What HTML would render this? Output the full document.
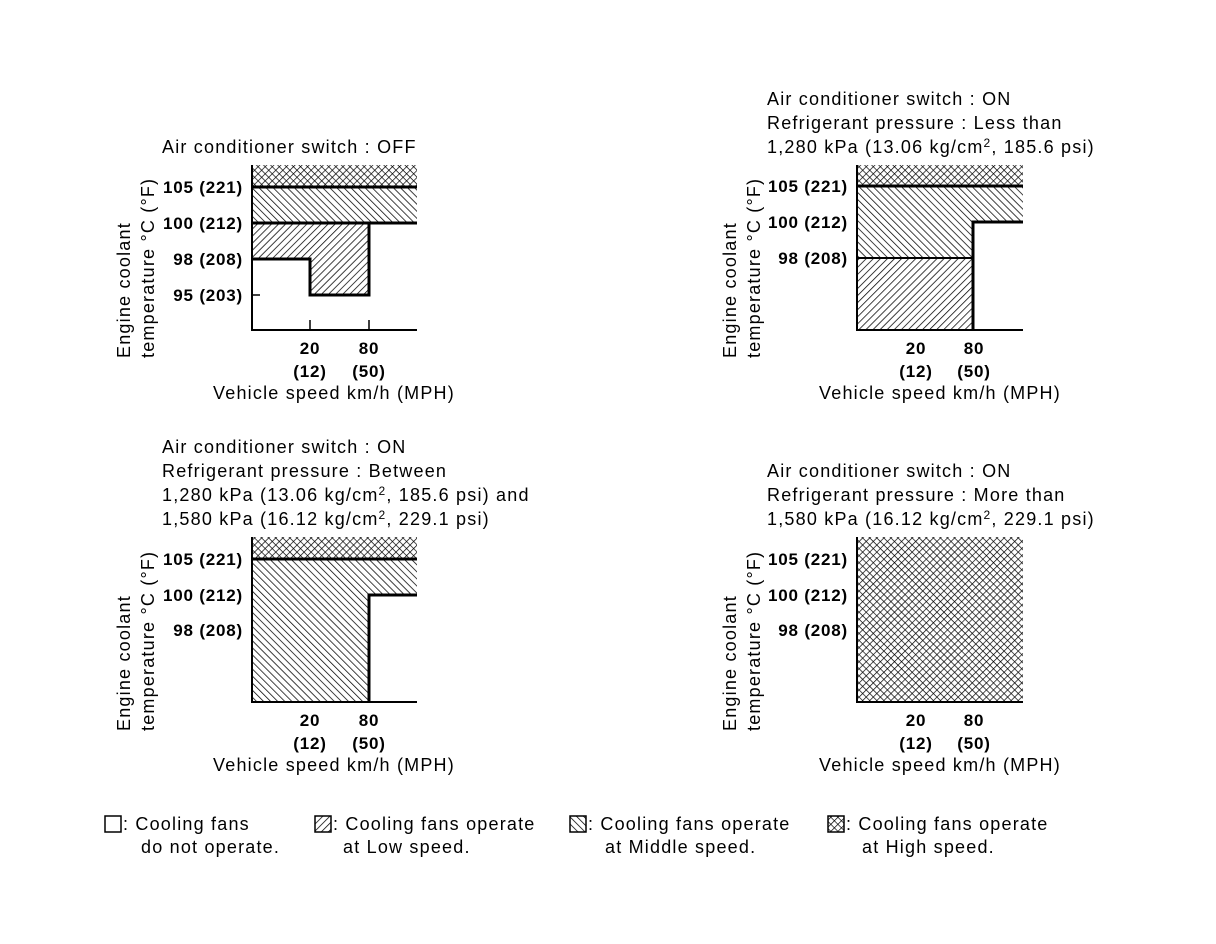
<!DOCTYPE html>
<html><head><meta charset="utf-8"><style>
html,body{margin:0;padding:0;background:#fff;}
svg{display:block;}
text{font-family:"Liberation Sans",Arial,sans-serif;fill:#000;}
.t{font-size:18px;letter-spacing:1.2px;}
.b{font-size:17px;font-weight:bold;letter-spacing:0.8px;}
</style></head><body>
<svg width="1216" height="944" viewBox="0 0 1216 944" xmlns="http://www.w3.org/2000/svg">
<defs>
<pattern id="lo" patternUnits="userSpaceOnUse" width="5" height="5" patternTransform="rotate(45)">
<rect width="5" height="5" fill="#fff"/><line x1="0" y1="0" x2="0" y2="5" stroke="#000" stroke-width="1.5"/></pattern>
<pattern id="mid" patternUnits="userSpaceOnUse" width="5" height="5" patternTransform="rotate(-45)">
<rect width="5" height="5" fill="#fff"/><line x1="0" y1="0" x2="0" y2="5" stroke="#000" stroke-width="1.5"/></pattern>
<pattern id="hi" patternUnits="userSpaceOnUse" width="5" height="5" patternTransform="rotate(45)">
<rect width="5" height="5" fill="#fff"/><line x1="0" y1="0" x2="0" y2="5" stroke="#000" stroke-width="1.4"/><line x1="0" y1="0" x2="5" y2="0" stroke="#000" stroke-width="1.4"/></pattern>
</defs>

<!-- Chart 1 -->
<text class="t" x="162" y="153">Air conditioner switch : OFF</text>
<rect x="252" y="165" width="165" height="22" fill="url(#hi)"/>
<rect x="252" y="187" width="165" height="36" fill="url(#mid)"/>
<rect x="252" y="223" width="117" height="36" fill="url(#lo)"/>
<rect x="310" y="259" width="59" height="36" fill="url(#lo)"/>
<g stroke="#000" fill="none">
<line x1="252" y1="165" x2="252" y2="330" stroke-width="2"/>
<line x1="251" y1="330" x2="417" y2="330" stroke-width="2"/>
<line x1="252" y1="187" x2="417" y2="187" stroke-width="3"/>
<line x1="252" y1="223" x2="417" y2="223" stroke-width="3"/>
<polyline points="369,223 369,295 310,295 310,259 252,259" stroke-width="3"/>
<line x1="252" y1="295" x2="260" y2="295" stroke-width="1.5"/>
<line x1="310" y1="320" x2="310" y2="330" stroke-width="1.5"/>
<line x1="369" y1="320" x2="369" y2="330" stroke-width="1.5"/>
</g>
<text class="b" x="243" y="193" text-anchor="end">105 (221)</text>
<text class="b" x="243" y="229" text-anchor="end">100 (212)</text>
<text class="b" x="243" y="265" text-anchor="end">98 (208)</text>
<text class="b" x="243" y="301" text-anchor="end">95 (203)</text>
<text class="b" x="310" y="354" text-anchor="middle">20</text>
<text class="b" x="369" y="354" text-anchor="middle">80</text>
<text class="b" x="310" y="377" text-anchor="middle">(12)</text>
<text class="b" x="369" y="377" text-anchor="middle">(50)</text>
<text class="t" x="334" y="399" text-anchor="middle">Vehicle speed km/h (MPH)</text>
<text class="t" transform="translate(130,358) rotate(-90)">Engine coolant</text>
<text class="t" transform="translate(154,358) rotate(-90)">temperature °C (°F)</text>

<!-- Chart 2 -->
<text class="t" x="767" y="105">Air conditioner switch : ON</text>
<text class="t" x="767" y="129">Refrigerant pressure : Less than</text>
<text class="t" x="767" y="153">1,280 kPa (13.06 kg/cm<tspan font-size="12" dy="-6">2</tspan><tspan dy="6">, 185.6 psi)</tspan></text>
<rect x="857" y="165" width="166" height="21" fill="url(#hi)"/>
<rect x="857" y="186" width="116" height="72" fill="url(#mid)"/>
<rect x="973" y="186" width="50" height="36" fill="url(#mid)"/>
<rect x="857" y="258" width="116" height="72" fill="url(#lo)"/>
<g stroke="#000" fill="none">
<line x1="857" y1="165" x2="857" y2="330" stroke-width="2"/>
<line x1="856" y1="330" x2="1023" y2="330" stroke-width="2"/>
<line x1="857" y1="186" x2="1023" y2="186" stroke-width="3"/>
<polyline points="973,330 973,222 1023,222" stroke-width="3"/>
<line x1="857" y1="258" x2="973" y2="258" stroke-width="2"/>
</g>
<text class="b" x="848" y="192" text-anchor="end">105 (221)</text>
<text class="b" x="848" y="228" text-anchor="end">100 (212)</text>
<text class="b" x="848" y="264" text-anchor="end">98 (208)</text>
<text class="b" x="916" y="354" text-anchor="middle">20</text>
<text class="b" x="974" y="354" text-anchor="middle">80</text>
<text class="b" x="916" y="377" text-anchor="middle">(12)</text>
<text class="b" x="974" y="377" text-anchor="middle">(50)</text>
<text class="t" x="940" y="399" text-anchor="middle">Vehicle speed km/h (MPH)</text>
<text class="t" transform="translate(736,358) rotate(-90)">Engine coolant</text>
<text class="t" transform="translate(760,358) rotate(-90)">temperature °C (°F)</text>

<!-- Chart 3 -->
<text class="t" x="162" y="453">Air conditioner switch : ON</text>
<text class="t" x="162" y="477">Refrigerant pressure : Between</text>
<text class="t" x="162" y="501">1,280 kPa (13.06 kg/cm<tspan font-size="12" dy="-6">2</tspan><tspan dy="6">, 185.6 psi) and</tspan></text>
<text class="t" x="162" y="525">1,580 kPa (16.12 kg/cm<tspan font-size="12" dy="-6">2</tspan><tspan dy="6">, 229.1 psi)</tspan></text>
<rect x="252" y="537" width="165" height="22" fill="url(#hi)"/>
<rect x="252" y="559" width="117" height="143" fill="url(#mid)"/>
<rect x="369" y="559" width="48" height="36" fill="url(#mid)"/>
<g stroke="#000" fill="none">
<line x1="252" y1="537" x2="252" y2="702" stroke-width="2"/>
<line x1="251" y1="702" x2="417" y2="702" stroke-width="2"/>
<line x1="252" y1="559" x2="417" y2="559" stroke-width="3"/>
<polyline points="369,702 369,595 417,595" stroke-width="3"/>
</g>
<text class="b" x="243" y="565" text-anchor="end">105 (221)</text>
<text class="b" x="243" y="601" text-anchor="end">100 (212)</text>
<text class="b" x="243" y="636" text-anchor="end">98 (208)</text>
<text class="b" x="310" y="726" text-anchor="middle">20</text>
<text class="b" x="369" y="726" text-anchor="middle">80</text>
<text class="b" x="310" y="749" text-anchor="middle">(12)</text>
<text class="b" x="369" y="749" text-anchor="middle">(50)</text>
<text class="t" x="334" y="771" text-anchor="middle">Vehicle speed km/h (MPH)</text>
<text class="t" transform="translate(130,731) rotate(-90)">Engine coolant</text>
<text class="t" transform="translate(154,731) rotate(-90)">temperature °C (°F)</text>

<!-- Chart 4 -->
<text class="t" x="767" y="477">Air conditioner switch : ON</text>
<text class="t" x="767" y="501">Refrigerant pressure : More than</text>
<text class="t" x="767" y="525">1,580 kPa (16.12 kg/cm<tspan font-size="12" dy="-6">2</tspan><tspan dy="6">, 229.1 psi)</tspan></text>
<rect x="857" y="537" width="166" height="165" fill="url(#hi)"/>
<g stroke="#000" fill="none">
<line x1="857" y1="537" x2="857" y2="702" stroke-width="2"/>
<line x1="856" y1="702" x2="1023" y2="702" stroke-width="2"/>
</g>
<text class="b" x="848" y="565" text-anchor="end">105 (221)</text>
<text class="b" x="848" y="601" text-anchor="end">100 (212)</text>
<text class="b" x="848" y="636" text-anchor="end">98 (208)</text>
<text class="b" x="916" y="726" text-anchor="middle">20</text>
<text class="b" x="974" y="726" text-anchor="middle">80</text>
<text class="b" x="916" y="749" text-anchor="middle">(12)</text>
<text class="b" x="974" y="749" text-anchor="middle">(50)</text>
<text class="t" x="940" y="771" text-anchor="middle">Vehicle speed km/h (MPH)</text>
<text class="t" transform="translate(736,731) rotate(-90)">Engine coolant</text>
<text class="t" transform="translate(760,731) rotate(-90)">temperature °C (°F)</text>

<!-- Legend -->
<rect x="105" y="816" width="16" height="16" fill="#fff" stroke="#000" stroke-width="1.5"/>
<text class="t" x="123" y="830">: Cooling fans</text>
<text class="t" x="141" y="853">do not operate.</text>
<rect x="315" y="816" width="16" height="16" fill="url(#lo)" stroke="#000" stroke-width="1.5"/>
<text class="t" x="333" y="830">: Cooling fans operate</text>
<text class="t" x="343" y="853">at Low speed.</text>
<rect x="570" y="816" width="16" height="16" fill="url(#mid)" stroke="#000" stroke-width="1.5"/>
<text class="t" x="588" y="830">: Cooling fans operate</text>
<text class="t" x="605" y="853">at Middle speed.</text>
<rect x="828" y="816" width="16" height="16" fill="url(#hi)" stroke="#000" stroke-width="1.5"/>
<text class="t" x="846" y="830">: Cooling fans operate</text>
<text class="t" x="862" y="853">at High speed.</text>
</svg>
</body></html>
